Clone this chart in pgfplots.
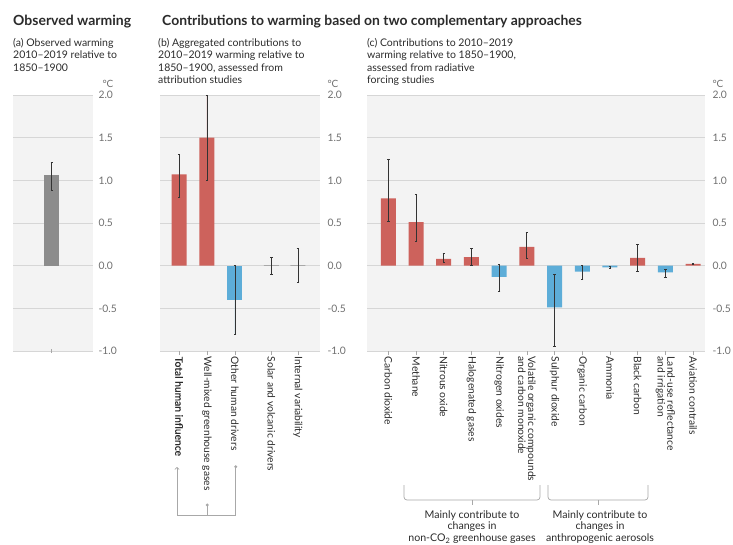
\documentclass[border=0pt]{standalone}
\usepackage{fontspec}
\setmainfont{Lato}
\newfontfamily\heavier{Lato}[FakeBold=0.6]
\usepackage{pgfplots}
\pgfplotsset{compat=1.18}
\usetikzlibrary{arrows.meta}

\definecolor{warm}{HTML}{CD625C}
\definecolor{cool}{HTML}{5DADD8}
\definecolor{obs}{HTML}{8C8C8C}
\definecolor{panel}{HTML}{F3F3F3}
\definecolor{gridc}{HTML}{D6D6D6}
\definecolor{labc}{HTML}{6E6E6E}
\definecolor{txt}{HTML}{2B2B2B}
\definecolor{brk}{HTML}{A8A8A8}
\definecolor{errc}{HTML}{333333}

\tikzset{degc/.style={font=\fontsize{10}{11}\selectfont, text=labc}}

\pgfplotsset{
  ipcc/.style={
    scale only axis, height=256pt,
    ymin=-1, ymax=2,
    ytick={-1,-0.5,...,2},
    yticklabel pos=right,
    axis line style={draw=none},
    axis background/.style={fill=panel},
    ymajorgrids, grid style={draw=gridc, line width=0.7pt},
    y tick label style={font=\fontsize{10.3}{11}\selectfont, text=labc},
    /pgf/number format/.cd, fixed, fixed zerofill, precision=1, assume math mode=true, /pgfplots/.cd,
    major y tick style={draw=none},
    major x tick style={draw=brk, line width=0.6pt},
    major tick length=4pt,
    tick align=outside,
    xtick pos=bottom,
    x tick label style={font=\fontsize{10.3}{9.8}\selectfont, text=txt, rotate=-90, anchor=west, align=left, inner sep=1.5pt},
    ybar, bar width=15pt, bar shift=0pt,
    clip=false,
  },
  eb/.style={error bars/.cd, y dir=both, y explicit,
    error bar style={line width=0.8pt, draw=errc},
    error mark options={rotate=90, mark size=1.2pt, line width=0.7pt, draw=errc}},
}

\begin{document}
\begin{tikzpicture}[x=1pt, y=1pt]
\useasboundingbox (0,0) rectangle (733,544);

% headings
\node[anchor=base west, inner sep=0, font=\bfseries\fontsize{14}{16}\selectfont, text=txt] at (13,518) {Observed warming};
\node[anchor=base west, inner sep=0, font=\bfseries\fontsize{13.9}{16}\selectfont, text=txt] at (162,518) {Contributions to warming based on two complementary approaches};

% panel captions (base anchor sits on the last line)
\node[anchor=base west, inner sep=0, align=left, font=\fontsize{10.5}{12.2}\selectfont, text=txt] at (13,472.9)
  {(a) Observed warming\\2010--2019 relative to\\1850--1900};
\node[anchor=base west, inner sep=0, align=left, font=\fontsize{10.5}{12.2}\selectfont, text=txt] at (158,460.7)
  {(b) Aggregated contributions to\\2010--2019 warming relative to\\1850--1900, assessed from\\attribution studies};
\node[anchor=base west, inner sep=0, align=left, font=\fontsize{10.5}{12.2}\selectfont, text=txt] at (367,460.7)
  {(c) Contributions to 2010--2019\\warming relative to 1850--1900,\\assessed from radiative\\forcing studies};

% (a) observed warming
\begin{axis}[ipcc, at={(13pt,193pt)}, anchor=south west, width=80pt,
  xmin=0, xmax=1, xtick={0.484}, xticklabels={}, tick align=center]
  \addplot[fill=obs, draw=none, eb] coordinates {(0.484,1.06) += (0,0.15) -= (0,0.18)};
  \node[degc] at ([xshift=15pt, yshift=11pt]rel axis cs:1,1) {°C};
\end{axis}

% (b) attribution studies
\begin{axis}[ipcc, at={(160pt,193pt)}, anchor=south west, width=160pt,
  xmin=-0.68, xmax=5.04, xtick={0,1,2,3.3,4.25},
  xticklabels={{\heavier Total human influence}, Well-mixed greenhouse gases, Other human drivers, Solar and volcanic drivers, Internal variability}]
  \addplot[fill=warm, draw=none, eb] coordinates {
    (0,1.07) += (0,0.23) -= (0,0.27)
    (1,1.50) += (0,0.50) -= (0,0.50)};
  \addplot[fill=cool, draw=none, eb] coordinates {
    (2,-0.40) += (0,0.40) -= (0,0.40)};
  \addplot[fill=none, draw=brk, line width=0.6pt, eb] coordinates {
    (3.3,0) += (0,0.10) -= (0,0.10)
    (4.25,0) += (0,0.20) -= (0,0.20)};
  \node[degc] at ([xshift=13pt, yshift=11pt]rel axis cs:1,1) {°C};
\end{axis}

% (c) radiative forcing studies
\begin{axis}[ipcc, at={(367pt,193pt)}, anchor=south west, width=338pt,
  xmin=-0.77, xmax=11.43, xtick={0,...,11},
  xticklabels={Carbon dioxide, Methane, Nitrous oxide, Halogenated gases, Nitrogen oxides,
    {Volatile organic compounds\\and carbon monoxide}, Sulphur dioxide, Organic carbon, Ammonia,
    Black carbon, {Land-use reflectance\\and irrigation}, Aviation contrails}]
  \addplot[fill=warm, draw=none, eb] coordinates {
    (0,0.79) += (0,0.46) -= (0,0.27)
    (1,0.51) += (0,0.32) -= (0,0.23)
    (2,0.08) += (0,0.07) -= (0,0.04)
    (3,0.10) += (0,0.10) -= (0,0.10)
    (5,0.22) += (0,0.17) -= (0,0.13)
    (9,0.09) += (0,0.16) -= (0,0.16)
    (11,0.02) += (0,0.01) -= (0,0.01)};
  \addplot[fill=cool, draw=none, eb] coordinates {
    (4,-0.13) += (0,0.14) -= (0,0.17)
    (6,-0.49) += (0,0.39) -= (0,0.45)
    (7,-0.07) += (0,0.07) -= (0,0.09)
    (8,-0.02) += (0,0.01) -= (0,0.01)
    (10,-0.08) += (0,0.04) -= (0,0.06)};
  \node[degc] at ([xshift=13pt, yshift=11pt]rel axis cs:1,1) {°C};
\end{axis}

% grouping of human drivers in (b)
\draw[brk, line width=0.7pt, {Straight Barb[length=2pt, width=4.5pt]}-] (177,77) -- (177,29) -- (235.7,29) -- (235.7,77.3);
\draw[brk, line width=0.7pt] (207.3,39) -- (207.3,29);
\fill[brk] (235.7,77.3) circle (1.6pt);
\fill[brk] (207.3,39) circle (1.6pt);

% groupings in (c)
\draw[brk, line width=0.7pt, rounded corners=3pt] (404,59) -- (404,44) -- (540,44) -- (540,59);
\draw[brk, line width=0.7pt] (472,44) -- (472,39);
\draw[brk, line width=0.7pt, rounded corners=3pt] (548,59) -- (548,44) -- (648,44) -- (648,59);
\draw[brk, line width=0.7pt] (598,44) -- (598,39);

\node[anchor=base, inner sep=0, align=center, font=\fontsize{10.6}{11.7}\selectfont, text=txt] at (472,2.6)
  {Mainly contribute to\\changes in\\non-CO\textsubscript{2} greenhouse gases};
\node[anchor=base, inner sep=0, align=center, font=\fontsize{10.6}{11.7}\selectfont, text=txt] at (600,2.6)
  {Mainly contribute to\\changes in\\anthropogenic aerosols};
\end{tikzpicture}
\end{document}
